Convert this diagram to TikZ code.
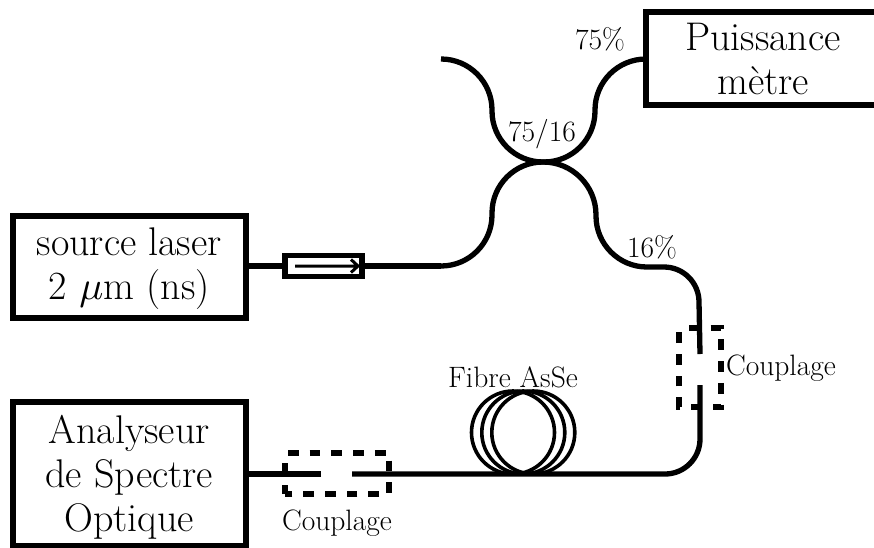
\documentclass[tikz,border=0pt]{standalone}
\begin{document}
\begin{tikzpicture}[x=1pt,y=-1pt,
  box/.style={draw,line width=6pt,inner sep=0pt,outer sep=0pt,align=center,font=\fontsize{40}{44}\selectfont,anchor=north west},
  fibre/.style={line width=5.3pt,line join=round},
  lbl/.style={inner sep=0pt,font=\fontsize{29.5}{32}\selectfont},
  coil/.style={draw,line width=3.6pt,circle,inner sep=0pt,outer sep=0pt,minimum size=83pt},
  dashbox/.style={draw,line width=5.5pt,dash pattern=on 10.7pt off 11pt}]
\useasboundingbox (0,0) rectangle (874,547);
% boxes
\node[box,minimum width=234pt,minimum height=93pt] (pm) at (646,12) {Puissance\\m\`etre};
\node[box,minimum width=232.5pt,minimum height=102pt] (src) at (13,215.5) {\rule{0pt}{31pt}source laser\\2 {\fontsize{10}{12}\selectfont\scalebox{4}{$\mu$}}m (ns)};
\node[box,minimum width=232.5pt,minimum height=144pt] (osa) at (13,402) {\rule{0pt}{34pt}Analyseur\\de Spectre\\Optique};
% coupler points
\coordinate (tl) at (441,59);
\coordinate (cc) at (543,162);
\coordinate (bl) at (441,266);
\coordinate (c1a) at (700,354);
\coordinate (c1b) at (700,385);
\coordinate (c2a) at (352,474);
\coordinate (c2b) at (321,474);
\coordinate (a1) at (295,266);
\coordinate (a2) at (358,266);
% fibres
\draw[fibre] (tl) arc[start angle=-90,end angle=0,radius=51] -- ++(0,1) arc[start angle=180,end angle=90,radius=51] -- (cc);
\draw[fibre] (pm.west |- tl) arc[start angle=-90,end angle=-180,radius=51] -- ++(0,1) arc[start angle=0,end angle=90,radius=51] -- (cc);
\draw[fibre] (bl) arc[start angle=90,end angle=0,radius=51] -- ++(0,-2) arc[start angle=180,end angle=270,radius=51] -- (cc);
\draw[fibre] (cc) arc[start angle=-90,end angle=0,radius=53] -- ++(0,1) arc[start angle=180,end angle=90,radius=51] -- ++(17,0) arc[start angle=-90,end angle=0,radius=35] -- (c1a);
\draw[fibre] (c1b) -- ++(0,54) arc[start angle=0,end angle=90,radius=35] -- (c2a);
\draw[fibre] (c2b) -- (osa.east |- c2b);
% isolator
\node[draw,fill=white,line width=5.5pt,minimum width=77pt,minimum height=21pt,inner sep=0pt,outer sep=0pt] (iso) at (323.5,266) {};
\draw[fibre] (src.east |- iso) -- (iso.west);
\draw[fibre] (iso.east) -- (bl);
\draw[line width=3pt,line join=miter] (a1) -- (a2) (351,259.5) -- (a2) -- (351,272.5);
% dashed couplings
\draw[dashbox,dash phase=18.7pt] (285,453) -- (389,453) -- (389,494) -- (285,494);
\draw[draw,line width=5.5pt,dash pattern=on 9pt off 13pt] (285,494) -- (285,453);
\draw[dashbox,dash phase=11.7pt] (679,328) -- (721,328) -- (721,407) -- (679,407) -- cycle;
% coil
\node[coil] (c1) at (513,432.5) {};
\node[coil] (c2) at (523.3,432.5) {};
\node[coil] (c3) at (533.3,432.5) {};
% labels
\node[lbl] (l75) at (600,39) {75\%};
\node[lbl] (l7516) at (542,134) {75/16};
\node[lbl] (l16) at (652,247) {16\%};
\node[lbl] (lc1) at (781,368) {Couplage};
\node[lbl] (lc2) at (337,523) {Couplage};
\node[lbl] (lf) at (513,377) {Fibre AsSe};
\end{tikzpicture}
\end{document}
